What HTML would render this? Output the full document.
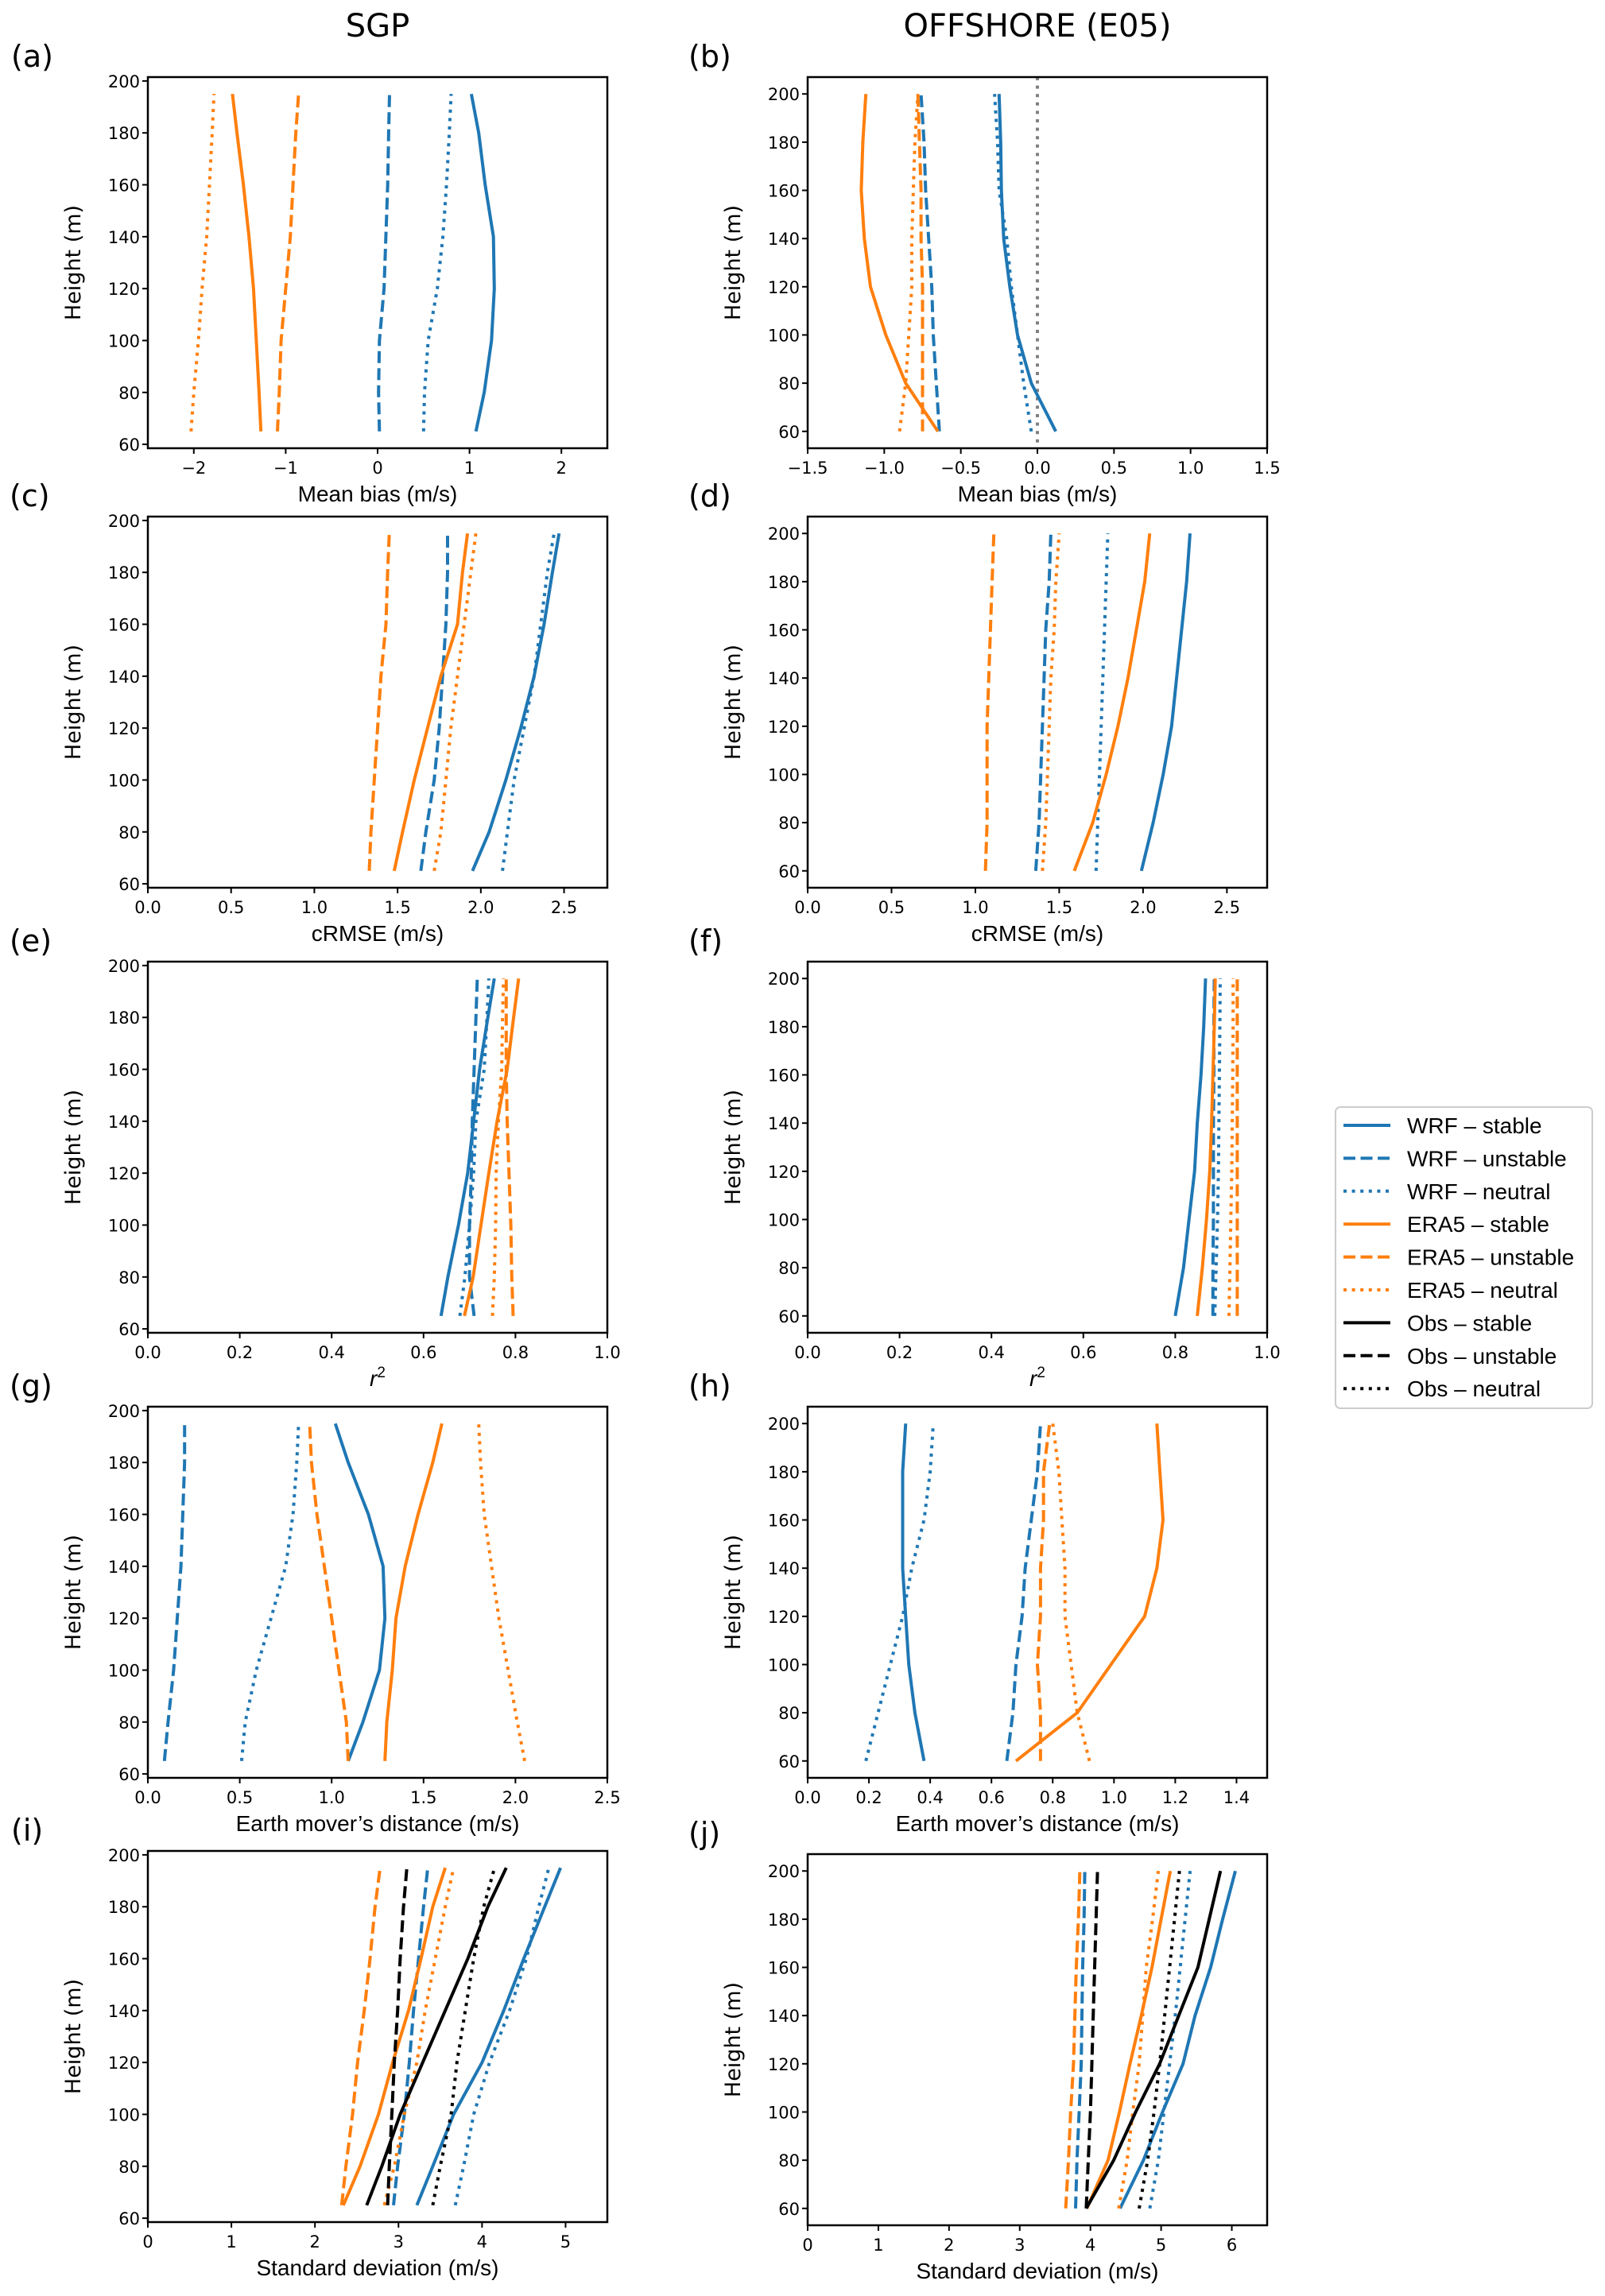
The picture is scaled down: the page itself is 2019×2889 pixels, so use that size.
<!DOCTYPE html>
<html><head><meta charset="utf-8">
<style>
html,body{margin:0;padding:0;background:#fff;}
svg{display:block;}
.tick{font-family:"DejaVu Sans",sans-serif;font-size:21px;fill:#000;}
.xl{font-family:"Liberation Sans",sans-serif;font-size:28px;fill:#000;}
.yl{font-family:"DejaVu Sans",sans-serif;font-size:27px;fill:#000;}
.pl{font-family:"DejaVu Sans",sans-serif;font-size:38px;fill:#000;}
.tt{font-family:"DejaVu Sans",sans-serif;font-size:40px;fill:#000;}
.lg{font-family:"Liberation Sans",sans-serif;font-size:28px;fill:#000;}
</style></head>
<body>
<svg id="fig" xmlns="http://www.w3.org/2000/svg" width="2019" height="2889" viewBox="0 0 2019 2889"></svg>
<script>
// heights
const hLeft = [65,80,100,120,140,160,180,195];
const hRight = [60,80,100,120,140,160,180,200];
// (a) mean bias SGP
const a_wrfStable = [1.07,1.16,1.24,1.27,1.26,1.17,1.10,1.02];
const a_wrfUnstable = [0.02,0.01,0.02,0.07,0.09,0.11,0.12,0.13];
const a_wrfNeutral = [0.50,0.51,0.55,0.65,0.71,0.75,0.78,0.80];
const a_eraStable = [-1.27,-1.29,-1.32,-1.35,-1.40,-1.46,-1.53,-1.58];
const a_eraUnstable = [-1.09,-1.07,-1.05,-1.00,-0.95,-0.92,-0.89,-0.86];
const a_eraNeutral = [-2.03,-2.00,-1.95,-1.91,-1.86,-1.83,-1.80,-1.78];
// (b) mean bias offshore
const b_wrfStable = [0.12,-0.04,-0.13,-0.18,-0.22,-0.235,-0.24,-0.25];
const b_wrfUnstable = [-0.64,-0.66,-0.68,-0.69,-0.71,-0.73,-0.74,-0.76];
const b_wrfNeutral = [-0.04,-0.09,-0.13,-0.17,-0.20,-0.25,-0.26,-0.28];
const b_eraStable = [-0.65,-0.86,-0.99,-1.09,-1.13,-1.15,-1.14,-1.12];
const b_eraUnstable = [-0.75,-0.75,-0.75,-0.75,-0.76,-0.76,-0.77,-0.78];
const b_eraNeutral = [-0.90,-0.86,-0.84,-0.82,-0.82,-0.81,-0.80,-0.78];
// (c) cRMSE SGP
const c_wrfStable = [1.95,2.05,2.15,2.24,2.32,2.38,2.43,2.47];
const c_wrfUnstable = [1.64,1.67,1.72,1.75,1.77,1.79,1.80,1.80];
const c_wrfNeutral = [2.13,2.16,2.20,2.26,2.32,2.36,2.40,2.44];
const c_eraStable = [1.48,1.53,1.60,1.68,1.76,1.86,1.89,1.92];
const c_eraUnstable = [1.33,1.34,1.36,1.38,1.40,1.43,1.44,1.45];
const c_eraNeutral = [1.72,1.76,1.79,1.82,1.86,1.90,1.94,1.97];
// (d) cRMSE offshore
const d_wrfStable = [1.99,2.06,2.12,2.17,2.20,2.23,2.26,2.28];
const d_wrfUnstable = [1.36,1.38,1.39,1.40,1.41,1.42,1.44,1.45];
const d_wrfNeutral = [1.72,1.73,1.74,1.75,1.76,1.77,1.78,1.79];
const d_eraStable = [1.59,1.70,1.78,1.85,1.91,1.96,2.01,2.04];
const d_eraUnstable = [1.06,1.07,1.07,1.07,1.08,1.09,1.10,1.11];
const d_eraNeutral = [1.40,1.42,1.43,1.44,1.45,1.47,1.48,1.50];
// (e) r2 SGP
const e_wrfStable = [0.638,0.653,0.676,0.696,0.709,0.722,0.740,0.754];
const e_wrfUnstable = [0.710,0.700,0.700,0.704,0.706,0.710,0.714,0.717];
const e_wrfNeutral = [0.679,0.690,0.700,0.709,0.714,0.732,0.738,0.742];
const e_eraStable = [0.689,0.708,0.725,0.742,0.760,0.782,0.796,0.807];
const e_eraUnstable = [0.795,0.792,0.790,0.786,0.782,0.780,0.780,0.780];
const e_eraNeutral = [0.750,0.754,0.757,0.758,0.763,0.770,0.772,0.774];
// (f) r2 offshore
const f_wrfStable = [0.800,0.818,0.830,0.842,0.848,0.856,0.862,0.866];
const f_wrfUnstable = [0.882,0.882,0.883,0.883,0.883,0.884,0.884,0.885];
const f_wrfNeutral = [0.886,0.889,0.892,0.894,0.895,0.896,0.897,0.898];
const f_eraStable = [0.848,0.859,0.868,0.875,0.879,0.882,0.885,0.887];
const f_eraUnstable = [0.935,0.935,0.935,0.935,0.935,0.935,0.935,0.935];
const f_eraNeutral = [0.917,0.919,0.921,0.923,0.924,0.925,0.926,0.926];
// (g) EMD SGP
const g_wrfStable = [1.09,1.17,1.26,1.29,1.28,1.20,1.09,1.02];
const g_wrfUnstable = [0.09,0.11,0.14,0.16,0.18,0.19,0.20,0.20];
const g_wrfNeutral = [0.51,0.53,0.59,0.67,0.75,0.79,0.81,0.82];
const g_eraStable = [1.29,1.30,1.33,1.35,1.40,1.47,1.55,1.60];
const g_eraUnstable = [1.09,1.08,1.04,1.00,0.96,0.92,0.89,0.88];
const g_eraNeutral = [2.05,2.01,1.96,1.91,1.87,1.83,1.81,1.80];
// (h) EMD offshore
const h_wrfStable = [0.38,0.35,0.33,0.32,0.31,0.31,0.31,0.32];
const h_wrfUnstable = [0.65,0.67,0.68,0.70,0.71,0.73,0.75,0.76];
const h_wrfNeutral = [0.19,0.23,0.27,0.31,0.34,0.38,0.40,0.41];
const h_eraStable = [0.68,0.88,0.99,1.10,1.14,1.16,1.15,1.14];
const h_eraUnstable = [0.76,0.76,0.75,0.76,0.76,0.77,0.77,0.79];
const h_eraNeutral = [0.92,0.88,0.86,0.84,0.84,0.83,0.82,0.80];
// (i) std SGP
const i_wrfStable = [3.22,3.41,3.66,4.00,4.26,4.50,4.75,4.94];
const i_wrfUnstable = [2.94,2.99,3.07,3.13,3.18,3.24,3.30,3.35];
const i_wrfNeutral = [3.68,3.78,3.90,4.09,4.33,4.53,4.68,4.80];
const i_eraStable = [2.34,2.54,2.76,2.93,3.12,3.27,3.41,3.56];
const i_eraUnstable = [2.32,2.37,2.45,2.51,2.59,2.66,2.72,2.78];
const i_eraNeutral = [2.83,2.95,3.07,3.22,3.32,3.44,3.56,3.66];
const i_obsStable = [2.62,2.80,3.02,3.29,3.56,3.83,4.07,4.29];
const i_obsUnstable = [2.87,2.89,2.92,2.95,2.99,3.02,3.06,3.10];
const i_obsNeutral = [3.41,3.50,3.63,3.70,3.80,3.90,4.02,4.15];
// (j) std offshore
const j_wrfStable = [4.42,4.75,5.02,5.31,5.48,5.70,5.87,6.05];
const j_wrfUnstable = [3.79,3.81,3.84,3.87,3.88,3.89,3.91,3.92];
const j_wrfNeutral = [4.84,4.96,5.04,5.12,5.20,5.27,5.34,5.41];
const j_eraStable = [3.95,4.25,4.41,4.56,4.72,4.87,5.00,5.13];
const j_eraUnstable = [3.65,3.69,3.72,3.76,3.78,3.80,3.83,3.85];
const j_eraNeutral = [4.40,4.52,4.60,4.69,4.74,4.79,4.88,4.96];
const j_obsStable = [3.94,4.33,4.64,4.98,5.25,5.52,5.68,5.84];
const j_obsUnstable = [3.94,3.97,4.00,4.02,4.04,4.06,4.08,4.10];
const j_obsNeutral = [4.69,4.81,4.90,4.98,5.05,5.12,5.19,5.26];
// tick labels
const yTicks = [60,80,100,120,140,160,180,200];
const ticksA = [-2,-1,0,1,2];
const ticksB = [-1.5,-1.0,-0.5,0.0,0.5,1.0,1.5];
const ticksCD = [0.0,0.5,1.0,1.5,2.0,2.5];
const ticksEF = [0.0,0.2,0.4,0.6,0.8,1.0];
const ticksG = [0.0,0.5,1.0,1.5,2.0,2.5];
const ticksH = [0.0,0.2,0.4,0.6,0.8,1.0,1.2,1.4];
const ticksI = [0,1,2,3,4,5];
const ticksJ = [0,1,2,3,4,5,6];

const BLUE='#1f77b4', ORANGE='#ff7f0e', BLACK='#000000';
const NS='http://www.w3.org/2000/svg';
const svg=document.getElementById('fig');
function mk(tag,attrs,parent){const e=document.createElementNS(NS,tag);for(const k in attrs)e.setAttribute(k,attrs[k]);(parent||svg).appendChild(e);return e;}
const DASH={solid:null,dashed:'15 6.5',dotted:'4 6.6'};

function fmt(v,dec){let s=v.toFixed(dec);return s.replace('-','\u2212');}

function panel(opt){
  const g=mk('g',{});
  
  
  const L=opt.x0,R=opt.x0+578,T=opt.y0,B=opt.y0+467;
  const sx=v=>L+(v-opt.xlim[0])/(opt.xlim[1]-opt.xlim[0])*(R-L);
  const sy=v=>B-(v-opt.ylim[0])/(opt.ylim[1]-opt.ylim[0])*(B-T);
  const clip=mk('clipPath',{id:'clip'+opt.id},g);
  mk('rect',{x:L,y:T,width:R-L,height:B-T},clip);
  const series=mk('g',{'clip-path':'url(#clip'+opt.id+')'},g);
  if(opt.zeroLine){
    const zl=mk('line',{x1:sx(0),x2:sx(0),y1:T,y2:B,stroke:'#808080','stroke-width':4,'stroke-dasharray':'4 6.6'},series);
    
    
  }
  opt.series.forEach(s=>{
    const pts=s.v.map((v,i)=>sx(v).toFixed(1)+','+sy(opt.h[i]).toFixed(1)).join(' ');
    const a={points:pts,fill:'none',stroke:s.c,'stroke-width':4,'stroke-linejoin':'round'};
    if(DASH[s.d])a['stroke-dasharray']=DASH[s.d];
    const pl=mk('polyline',a,series);
    
    
  });
  const fr=mk('rect',{x:L,y:T,width:R-L,height:B-T,fill:'none',stroke:'#000','stroke-width':2.5},g);
  
  
  yTicks.forEach(t=>{
    const y=sy(t);
    mk('line',{x1:L-7,x2:L,y1:y,y2:y,stroke:'#000','stroke-width':2},g);
    const tx=mk('text',{x:L-10,y:y+8,'text-anchor':'end',class:'tick'},g);
    tx.textContent=t;
    
    
  });
  opt.xticks.forEach(t=>{
    const x=sx(t);
    mk('line',{x1:x,x2:x,y1:B,y2:B+7,stroke:'#000','stroke-width':2},g);
    const tx=mk('text',{x:x,y:B+32,'text-anchor':'middle',class:'tick'},g);
    tx.textContent=fmt(t,opt.dec);
    
    
  });
  const xl=mk('text',{x:(L+R)/2,y:B+67,'text-anchor':'middle',class:'xl'},g);
  if(opt.r2){xl.innerHTML='<tspan font-style="italic">r</tspan><tspan font-size="19" dy="-11">2</tspan>';}
  else xl.textContent=opt.xlabel;
  
  
  const yc=(T+B)/2, yx=L-85;
  const yl=mk('text',{x:yx,y:yc,'text-anchor':'middle',class:'yl',transform:'rotate(-90 '+yx+' '+yc+')'},g);
  yl.textContent='Height (m)';
  
  
  const lb=mk('text',{x:opt.lx,y:T-13,class:'pl'},g);
  lb.textContent='('+opt.id+')';
  
  
}
function six(p){return [
  {n:'wrf-stable',v:p[0],c:BLUE,d:'solid'},{n:'wrf-unstable',v:p[1],c:BLUE,d:'dashed'},{n:'wrf-neutral',v:p[2],c:BLUE,d:'dotted'},
  {n:'era5-stable',v:p[3],c:ORANGE,d:'solid'},{n:'era5-unstable',v:p[4],c:ORANGE,d:'dashed'},{n:'era5-neutral',v:p[5],c:ORANGE,d:'dotted'}];}

const LX=186, RX=1016;
const tops=[97,650,1210,1770,2329];
const YL=[58.5,201.5], YR=[53,207];
panel({id:'a',x0:LX,y0:tops[0],xlim:[-2.5,2.5],ylim:YL,h:hLeft,xticks:ticksA,dec:0,xlabel:'Mean bias (m/s)',lx:14,series:six([a_wrfStable,a_wrfUnstable,a_wrfNeutral,a_eraStable,a_eraUnstable,a_eraNeutral])});
panel({id:'b',x0:RX,y0:tops[0],xlim:[-1.5,1.5],ylim:YR,h:hRight,xticks:ticksB,dec:1,xlabel:'Mean bias (m/s)',lx:866,zeroLine:true,series:six([b_wrfStable,b_wrfUnstable,b_wrfNeutral,b_eraStable,b_eraUnstable,b_eraNeutral])});
panel({id:'c',x0:LX,y0:tops[1],xlim:[0,2.76],ylim:YL,h:hLeft,xticks:ticksCD,dec:1,xlabel:'cRMSE (m/s)',lx:12,series:six([c_wrfStable,c_wrfUnstable,c_wrfNeutral,c_eraStable,c_eraUnstable,c_eraNeutral])});
panel({id:'d',x0:RX,y0:tops[1],xlim:[0,2.74],ylim:YR,h:hRight,xticks:ticksCD,dec:1,xlabel:'cRMSE (m/s)',lx:866,series:six([d_wrfStable,d_wrfUnstable,d_wrfNeutral,d_eraStable,d_eraUnstable,d_eraNeutral])});
panel({id:'e',x0:LX,y0:tops[2],xlim:[0,1],ylim:YL,h:hLeft,xticks:ticksEF,dec:1,r2:true,lx:12,series:six([e_wrfStable,e_wrfUnstable,e_wrfNeutral,e_eraStable,e_eraUnstable,e_eraNeutral])});
panel({id:'f',x0:RX,y0:tops[2],xlim:[0,1],ylim:YR,h:hRight,xticks:ticksEF,dec:1,r2:true,lx:866,series:six([f_wrfStable,f_wrfUnstable,f_wrfNeutral,f_eraStable,f_eraUnstable,f_eraNeutral])});
panel({id:'g',x0:LX,y0:tops[3],xlim:[0,2.5],ylim:YL,h:hLeft,xticks:ticksG,dec:1,xlabel:'Earth mover\u2019s distance (m/s)',lx:12,series:six([g_wrfStable,g_wrfUnstable,g_wrfNeutral,g_eraStable,g_eraUnstable,g_eraNeutral])});
panel({id:'h',x0:RX,y0:tops[3],xlim:[0,1.5],ylim:YR,h:hRight,xticks:ticksH,dec:1,xlabel:'Earth mover\u2019s distance (m/s)',lx:866,series:six([h_wrfStable,h_wrfUnstable,h_wrfNeutral,h_eraStable,h_eraUnstable,h_eraNeutral])});
panel({id:'i',x0:LX,y0:tops[4],xlim:[0,5.5],ylim:YL,h:hLeft,xticks:ticksI,dec:0,xlabel:'Standard deviation (m/s)',lx:14,series:six([i_wrfStable,i_wrfUnstable,i_wrfNeutral,i_eraStable,i_eraUnstable,i_eraNeutral]).concat([
  {n:'obs-stable',v:i_obsStable,c:BLACK,d:'solid'},{n:'obs-unstable',v:i_obsUnstable,c:BLACK,d:'dashed'},{n:'obs-neutral',v:i_obsNeutral,c:BLACK,d:'dotted'}])});
panel({id:'j',x0:RX,y0:tops[4]+4,xlim:[0,6.5],ylim:YR,h:hRight,xticks:ticksJ,dec:0,xlabel:'Standard deviation (m/s)',lx:866,series:six([j_wrfStable,j_wrfUnstable,j_wrfNeutral,j_eraStable,j_eraUnstable,j_eraNeutral]).concat([
  {n:'obs-stable',v:j_obsStable,c:BLACK,d:'solid'},{n:'obs-unstable',v:j_obsUnstable,c:BLACK,d:'dashed'},{n:'obs-neutral',v:j_obsNeutral,c:BLACK,d:'dotted'}])});

// titles
const t1=mk('text',{x:475,y:46,'text-anchor':'middle',class:'tt'});t1.textContent='SGP';


const t2=mk('text',{x:1305,y:46,'text-anchor':'middle',class:'tt'});t2.textContent='OFFSHORE (E05)';



// legend
const legNames=['WRF \u2013 stable','WRF \u2013 unstable','WRF \u2013 neutral','ERA5 \u2013 stable','ERA5 \u2013 unstable','ERA5 \u2013 neutral','Obs \u2013 stable','Obs \u2013 unstable','Obs \u2013 neutral'];
const legColors=[BLUE,BLUE,BLUE,ORANGE,ORANGE,ORANGE,BLACK,BLACK,BLACK];
const legStyles=['solid','dashed','dotted','solid','dashed','dotted','solid','dashed','dotted'];
const lg=mk('g',{});


mk('rect',{x:1680,y:1393,width:323,height:379,rx:6,fill:'#fff',stroke:'#cccccc','stroke-width':2},lg);
legNames.forEach((n,i)=>{
  const y=1416+i*41.4;
  const e=mk('g',{},lg);
  
  
  const a={x1:1690,x2:1749,y1:y,y2:y,stroke:legColors[i],'stroke-width':4};
  if(DASH[legStyles[i]])a['stroke-dasharray']=DASH[legStyles[i]];
  mk('line',a,e);
  const t=mk('text',{x:1770,y:y+10,class:'lg'},e);t.textContent=n;
});
</script>
</body></html>
